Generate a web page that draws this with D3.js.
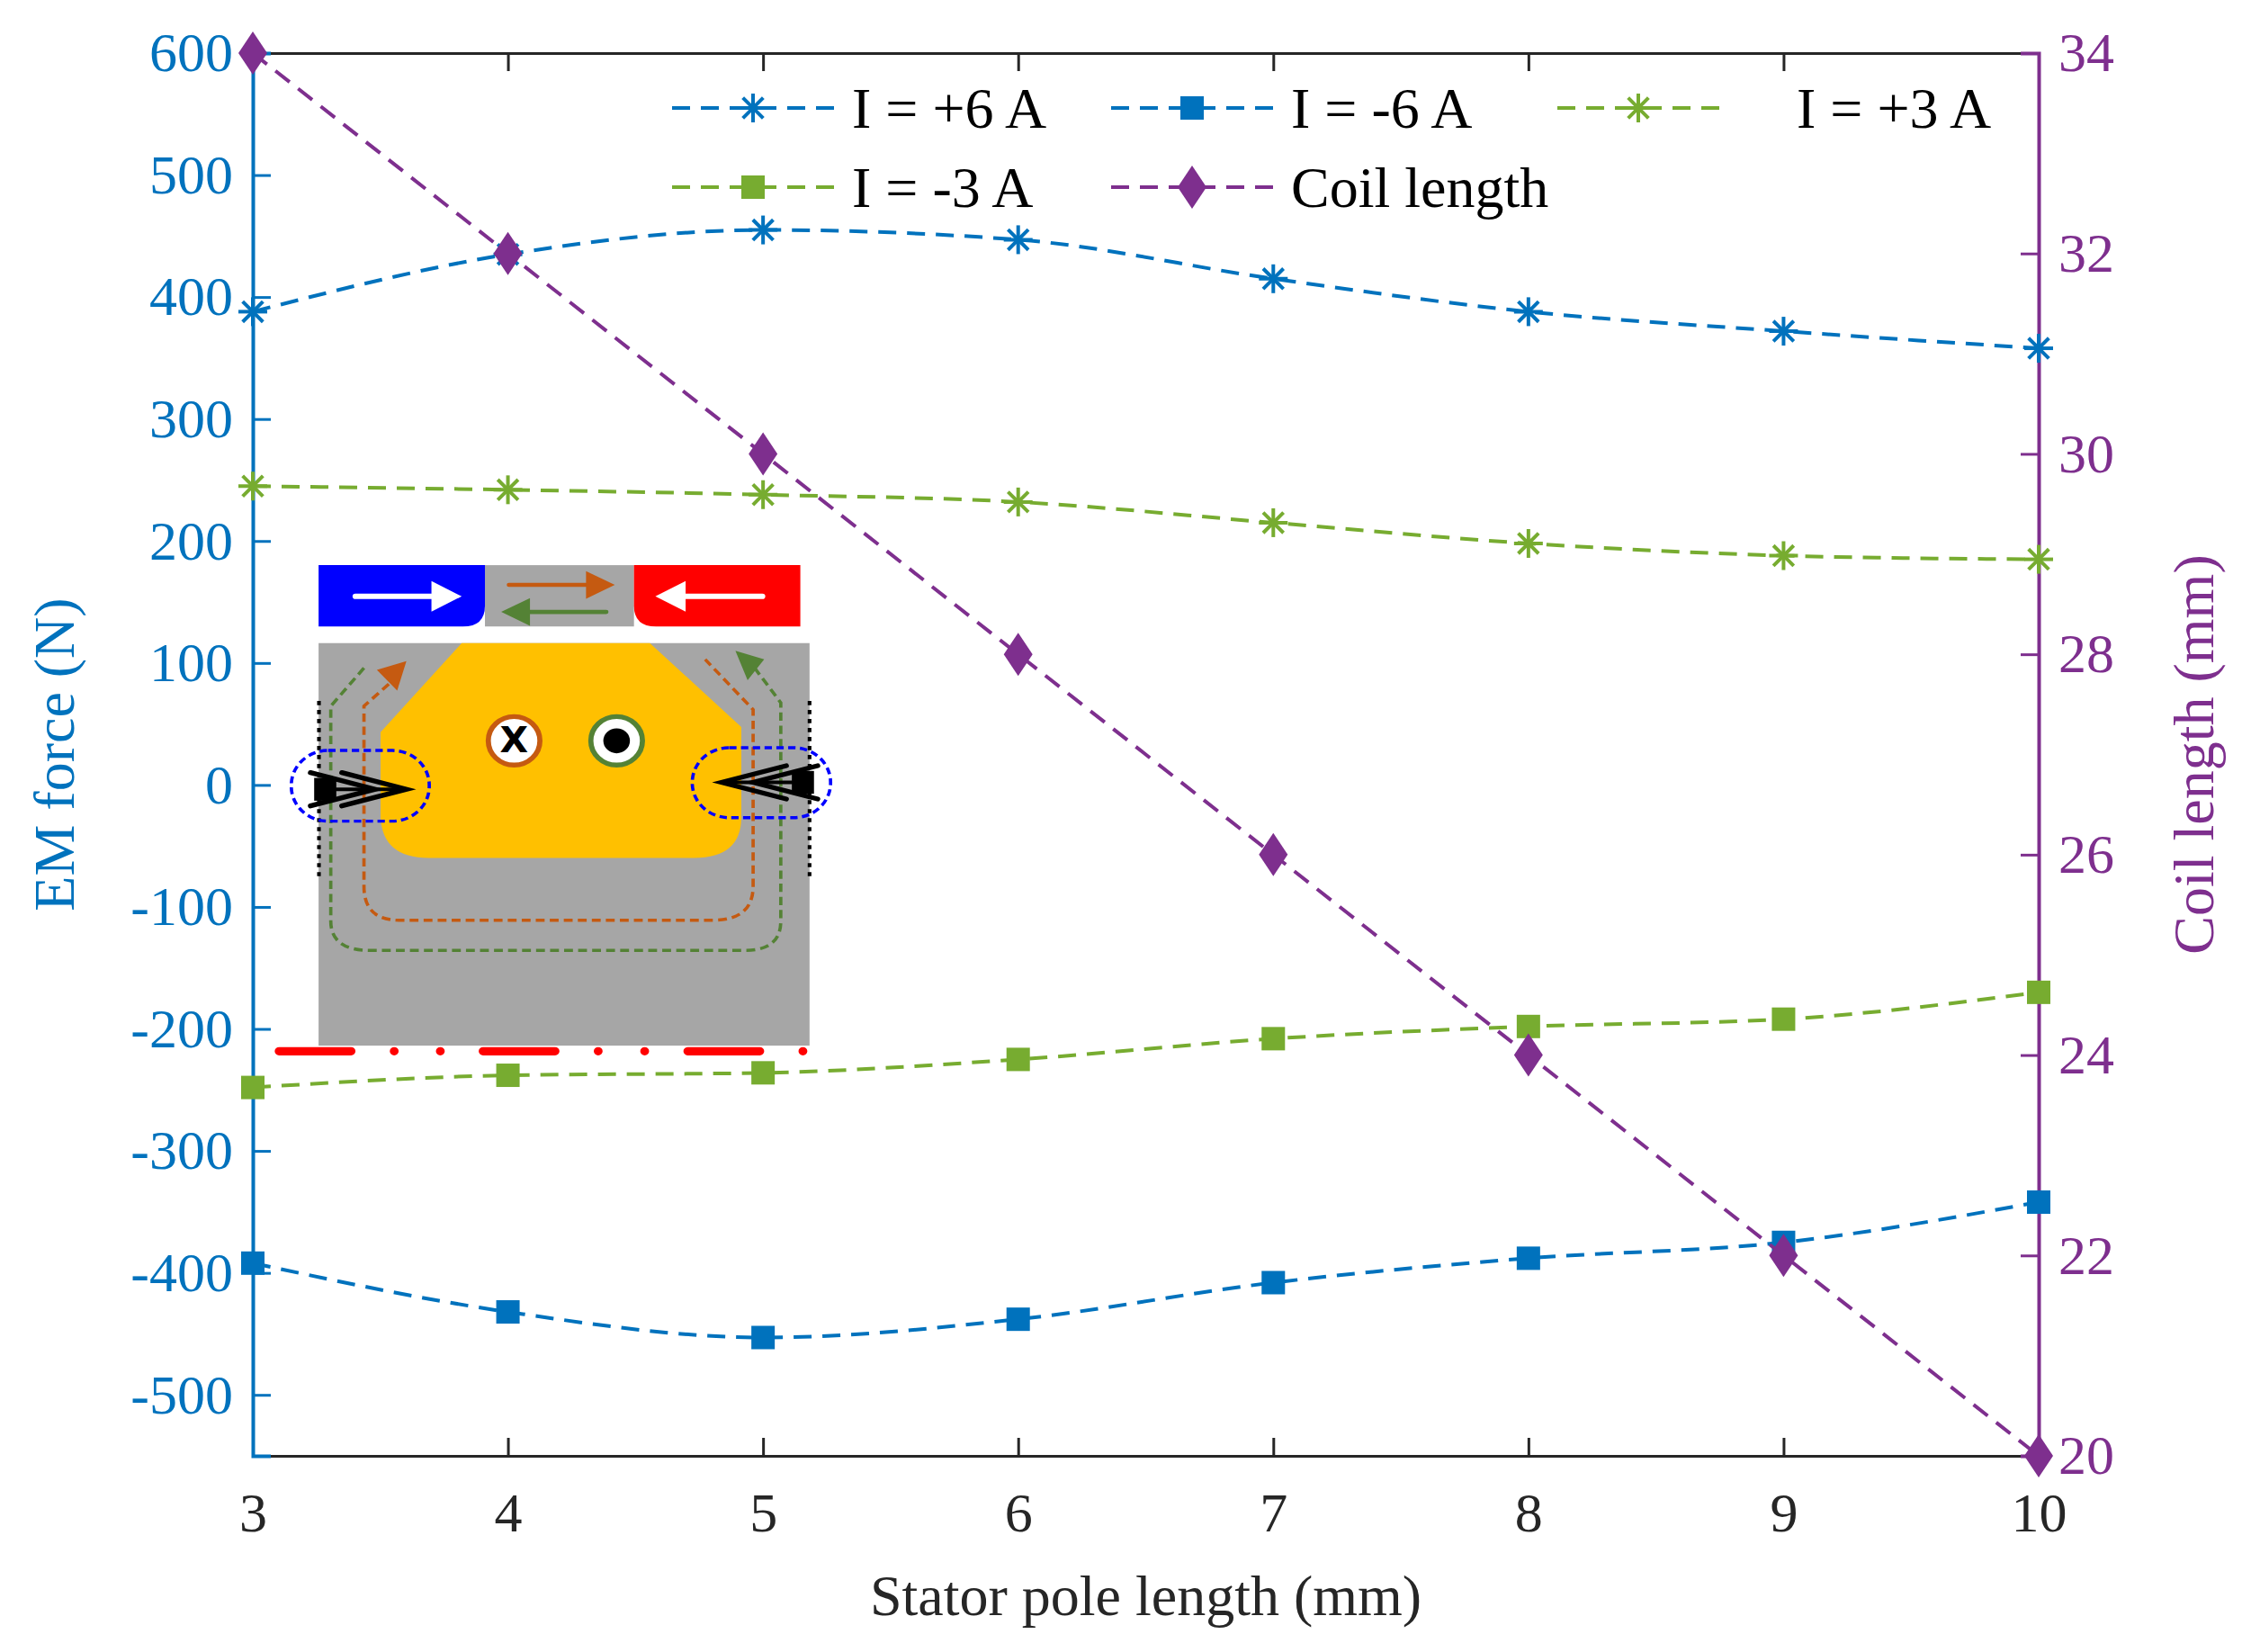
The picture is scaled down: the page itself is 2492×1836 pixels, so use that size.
<!DOCTYPE html>
<html><head><meta charset="utf-8">
<script src="https://cdn.jsdelivr.net/npm/d3@7"></script>
<style>body{margin:0;background:#fff} .tk text{font-family:'Liberation Serif','Times New Roman',serif}</style>
</head><body>
<script>
// data
var poleLength = [3, 4, 5, 6, 7, 8, 9, 10];
var forcePos6 = [388, 435, 455, 447, 415, 388, 372, 358];
var forceNeg6 = [-392, -432, -453, -438, -408, -388, -375, -342];
var forcePos3 = [245, 242, 238, 232, 215, 198, 188, 185];
var forceNeg3 = [-248, -238, -236, -225, -208, -198, -192, -170];
var coilLength = [34, 32, 30, 28, 26, 24, 22, 20];
var leftTicks = [-500, -400, -300, -200, -100, 0, 100, 200, 300, 400, 500, 600];
var rightTicks = [20, 22, 24, 26, 28, 30, 32, 34];

var W = 2492, H = 1836;
var blue = "#0072BD", green = "#77AC30", purple = "#7E2F8E";
var font = "'Liberation Serif', 'Times New Roman', serif";
var m = {left: 281, right: 2266, top: 59, bottom: 1618};

var svg = d3.select("body").append("svg").attr("width", W).attr("height", H)
  .style("font-family", font);

var x = d3.scaleLinear().domain([3, 10]).range([m.left, m.right]);
var yL = d3.scaleLinear().domain([-550, 600]).range([m.bottom, m.top]);
var yR = d3.scaleLinear().domain([20, 34]).range([m.bottom, m.top]);
var fmt = function (d) { return String(d); };

// axes
var tick = 20;
svg.append("g").attr("class", "tk").attr("transform", "translate(0," + m.bottom + ")")
  .call(d3.axisBottom(x).ticks(8).tickSize(-tick).tickPadding(40).tickFormat(fmt))
  .call(g => g.attr("font-family", null))
  .call(g => g.select(".domain").attr("stroke", "#262626").attr("stroke-width", 3))
  .call(g => g.selectAll("line").attr("stroke", "#262626").attr("stroke-width", 3))
  .call(g => g.selectAll("text").attr("font-size", 62).attr("fill", "#262626"));
svg.append("g").attr("transform", "translate(0," + m.top + ")")
  .call(d3.axisTop(x).ticks(8).tickSize(-tick).tickFormat(""))
  .call(g => g.select(".domain").attr("stroke", "#262626").attr("stroke-width", 3))
  .call(g => g.selectAll("line").attr("stroke", "#262626").attr("stroke-width", 3));
svg.append("g").attr("class", "tk").attr("transform", "translate(" + m.left + ",0)")
  .call(d3.axisLeft(yL).tickValues(leftTicks).tickSize(-tick).tickPadding(22).tickFormat(fmt))
  .call(g => g.attr("font-family", null))
  .call(g => g.select(".domain").attr("stroke", blue).attr("stroke-width", 4))
  .call(g => g.selectAll("line").attr("stroke", blue).attr("stroke-width", 3))
  .call(g => g.selectAll("text").attr("font-size", 62).attr("fill", blue));
svg.append("g").attr("class", "tk").attr("transform", "translate(" + m.right + ",0)")
  .call(d3.axisRight(yR).tickValues(rightTicks).tickSize(-tick).tickPadding(22).tickFormat(fmt))
  .call(g => g.attr("font-family", null))
  .call(g => g.select(".domain").attr("stroke", purple).attr("stroke-width", 4))
  .call(g => g.selectAll("line").attr("stroke", purple).attr("stroke-width", 3))
  .call(g => g.selectAll("text").attr("font-size", 62).attr("fill", purple));

svg.append("text").attr("x", (m.left + m.right) / 2).attr("y", 1795)
  .attr("text-anchor", "middle").attr("font-size", 64).attr("fill", "#262626")
  .text("Stator pole length (mm)");
svg.append("text").attr("transform", "translate(82," + (m.top + m.bottom) / 2 + ") rotate(-90)")
  .attr("text-anchor", "middle").attr("font-size", 64).attr("fill", blue).text("EM force (N)");
svg.append("text").attr("transform", "translate(2460," + (m.top + m.bottom) / 2 + ") rotate(-90)")
  .attr("text-anchor", "middle").attr("font-size", 64).attr("fill", purple).text("Coil length (mm)");

// inset schematic (drawn in zoomed-crop units)
var ins = svg.append("g").attr("transform", "translate(300,600) scale(0.41,0.385)");
ins.append("rect").attr("x", 583).attr("y", 73).attr("width", 404).attr("height", 177).attr("fill", "#A6A6A6");
ins.append("path").attr("d", "M132,73 H583 V190 Q583,250 523,250 H132 Z").attr("fill", "#0000FF");
ins.append("path").attr("d", "M987,73 H1438 V250 H1047 Q987,250 987,190 Z").attr("fill", "#FF0000");
ins.append("rect").attr("x", 132).attr("y", 298).attr("width", 1331).attr("height", 1162).attr("fill", "#A6A6A6");
function arrow(g, x1, x2, y, col, w, hl, hw) {
  var d = x2 > x1 ? 1 : -1;
  g.append("line").attr("x1", x1).attr("x2", x2 - d * hl).attr("y1", y).attr("y2", y)
    .attr("stroke", col).attr("stroke-width", w).attr("stroke-linecap", "round");
  g.append("path").attr("d", "M" + x2 + "," + y + "L" + (x2 - d * hl) + "," + (y - hw) + "L" + (x2 - d * hl) + "," + (y + hw) + "Z").attr("fill", col);
}
arrow(ins, 232, 520, 163, "#fff", 16, 82, 44);
arrow(ins, 1335, 1045, 163, "#fff", 16, 82, 44);
arrow(ins, 648, 935, 130, "#C55A11", 12, 78, 40);
arrow(ins, 912, 627, 208, "#548235", 12, 78, 40);
ins.append("path").attr("d", "M520,298 H1030 L1278,540 V800 Q1278,918 1150,918 H430 Q305,918 300,800 V555 Z")
  .attr("fill", "#FFC000");
ins.append("path").attr("d", "M350,390 L255,480 V1000 Q255,1098 350,1098 H1200 Q1310,1098 1310,1000 V490 L1180,345")
  .attr("fill", "none").attr("stroke", "#C55A11").attr("stroke-width", 9).attr("stroke-dasharray", "24,14");
ins.append("path").attr("d", "M290,375 L370,350 L345,435 Z").attr("fill", "#C55A11");
ins.append("path").attr("d", "M255,370 L165,480 V1100 Q165,1185 270,1185 H1290 Q1385,1185 1385,1100 V470 L1300,350")
  .attr("fill", "none").attr("stroke", "#548235").attr("stroke-width", 9).attr("stroke-dasharray", "24,14");
ins.append("path").attr("d", "M1262,320 L1340,345 L1295,405 Z").attr("fill", "#548235");
[133, 1463].forEach(function (xx) {
  ins.append("line").attr("x1", xx).attr("x2", xx).attr("y1", 465).attr("y2", 980)
    .attr("stroke", "#000").attr("stroke-width", 10).attr("stroke-dasharray", "12,14");
});
ins.append("circle").attr("cx", 662).attr("cy", 580).attr("r", 70).attr("fill", "#fff").attr("stroke", "#C55A11").attr("stroke-width", 14);
ins.append("text").attr("x", 662).attr("y", 612).attr("text-anchor", "middle").attr("font-size", 100)
  .attr("font-weight", "bold").attr("font-family", "DejaVu Sans").text("X");
ins.append("circle").attr("cx", 940).attr("cy", 580).attr("r", 70).attr("fill", "#fff").attr("stroke", "#548235").attr("stroke-width", 14);
ins.append("circle").attr("cx", 940).attr("cy", 580).attr("r", 36).attr("fill", "#000");
ins.append("rect").attr("x", 58).attr("y", 608).attr("width", 374).attr("height", 204).attr("rx", 100)
  .attr("fill", "none").attr("stroke", "#0000FF").attr("stroke-width", 9).attr("stroke-dasharray", "20,12");
ins.append("rect").attr("x", 1145).attr("y", 600).attr("width", 375).attr("height", 202).attr("rx", 100)
  .attr("fill", "none").attr("stroke", "#0000FF").attr("stroke-width", 9).attr("stroke-dasharray", "20,12");
function pin(cx, y, dir) {
  ins.append("rect").attr("x", cx - 30).attr("y", y - 33).attr("width", 60).attr("height", 66).attr("fill", "#000");
  var tip = cx + dir * 220;
  ins.append("line").attr("x1", cx).attr("x2", tip).attr("y1", y).attr("y2", y).attr("stroke", "#000").attr("stroke-width", 10);
  [tip, tip - dir * 85].forEach(function (t) {
    ins.append("path").attr("d", "M" + (t - dir * 175) + "," + (y - 48) + "L" + t + "," + y + "L" + (t - dir * 175) + "," + (y + 48))
      .attr("fill", "none").attr("stroke", "#000").attr("stroke-width", 14).attr("stroke-linecap", "round");
  });
}
pin(150, 720, 1);
pin(1445, 700, -1);
ins.append("line").attr("x1", 25).attr("x2", 1450).attr("y1", 1476).attr("y2", 1476)
  .attr("stroke", "#FF0000").attr("stroke-width", 24).attr("stroke-linecap", "round")
  .attr("stroke-dasharray", "195,117,0,125,0,116,195,117,0,126,0,117,195,117,0,1000");

// series
var series = [
  {name: "I = +6 A", vals: forcePos6, col: blue, mk: "star", y: yL},
  {name: "I = -6 A", vals: forceNeg6, col: blue, mk: "square", y: yL},
  {name: "I = +3 A", vals: forcePos3, col: green, mk: "star", y: yL},
  {name: "I = -3 A", vals: forceNeg3, col: green, mk: "square", y: yL},
  {name: "Coil length", vals: coilLength, col: purple, mk: "diamond", y: yR}
];
function marker(g, cx, cy, s) {
  if (s.mk === "square") {
    g.append("rect").attr("x", cx - 13).attr("y", cy - 13).attr("width", 26).attr("height", 26).attr("fill", s.col);
  } else if (s.mk === "diamond") {
    g.append("path").attr("d", "M" + cx + "," + (cy - 24) + "L" + (cx + 16) + "," + cy + "L" + cx + "," + (cy + 24) + "L" + (cx - 16) + "," + cy + "Z").attr("fill", s.col);
  } else {
    var r = 16;
    [0, 45, 90, 135].forEach(function (a) {
      var t = a * Math.PI / 180;
      g.append("line").attr("x1", cx - r * Math.cos(t)).attr("x2", cx + r * Math.cos(t))
        .attr("y1", cy - r * Math.sin(t)).attr("y2", cy + r * Math.sin(t)).attr("stroke", s.col).attr("stroke-width", 4);
    });
  }
}
series.forEach(function (s) {
  var line = d3.line().x(function (d, i) { return x(poleLength[i]); }).y(function (d) { return s.y(d); })
    .curve(s.mk === "diamond" ? d3.curveLinear : d3.curveMonotoneX);
  svg.append("path").datum(s.vals).attr("d", line).attr("fill", "none").attr("stroke", s.col)
    .attr("stroke-width", 4).attr("stroke-dasharray", "20,12");
  var g = svg.append("g");
  s.vals.forEach(function (v, i) { marker(g, x(poleLength[i]), s.y(v), s); });
});

// legend
var legPos = [[747, 120], [1235, 120], [1731, 120], [747, 208], [1235, 208]];
series.forEach(function (s, i) {
  var p = legPos[i], g = svg.append("g");
  g.append("line").attr("x1", p[0]).attr("x2", p[0] + 180).attr("y1", p[1]).attr("y2", p[1])
    .attr("stroke", s.col).attr("stroke-width", 4).attr("stroke-dasharray", "20,12");
  marker(g, p[0] + 90, p[1], s);
  g.append("text").attr("x", p[0] + (i === 2 ? 266 : 200)).attr("y", p[1] + 22).attr("font-size", 64)
    .attr("fill", "#000").text(s.name);
});
</script>
</body></html>
